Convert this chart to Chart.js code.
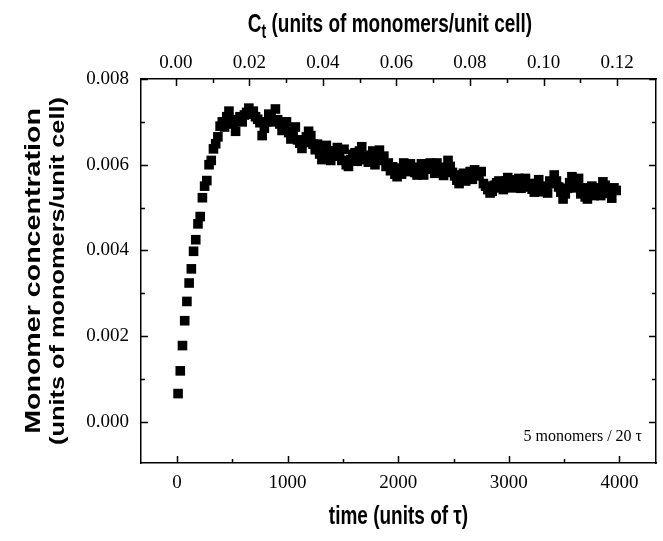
<!DOCTYPE html>
<html>
<head>
<meta charset="utf-8">
<script src="https://cdn.jsdelivr.net/npm/chart.js@4/dist/chart.umd.min.js"></script>
<style>
  html, body { margin: 0; padding: 0; background: #fff; }
</style>
</head>
<body>
<canvas id="monomerChart" width="663" height="541"></canvas>
<script>
// sampling times (units of tau)
const times = [
  10, 30, 50, 70, 90, 110, 130, 150, 170, 190,
  210, 230, 250, 270, 290, 310, 330, 350, 370, 390,
  410, 430, 450, 470, 490, 510, 530, 550, 570, 590,
  610, 630, 650, 670, 690, 710, 730, 750, 770, 790,
  810, 830, 850, 870, 890, 910, 930, 950, 970, 990,
  1010, 1030, 1050, 1070, 1090, 1110, 1130, 1150, 1170, 1190,
  1210, 1230, 1250, 1270, 1290, 1310, 1330, 1350, 1370, 1390,
  1410, 1430, 1450, 1470, 1490, 1510, 1530, 1550, 1570, 1590,
  1610, 1630, 1650, 1670, 1690, 1710, 1730, 1750, 1770, 1790,
  1810, 1830, 1850, 1870, 1890, 1910, 1930, 1950, 1970, 1990,
  2010, 2030, 2050, 2070, 2090, 2110, 2130, 2150, 2170, 2190,
  2210, 2230, 2250, 2270, 2290, 2310, 2330, 2350, 2370, 2390,
  2410, 2430, 2450, 2470, 2490, 2510, 2530, 2550, 2570, 2590,
  2610, 2630, 2650, 2670, 2690, 2710, 2730, 2750, 2770, 2790,
  2810, 2830, 2850, 2870, 2890, 2910, 2930, 2950, 2970, 2990,
  3010, 3030, 3050, 3070, 3090, 3110, 3130, 3150, 3170, 3190,
  3210, 3230, 3250, 3270, 3290, 3310, 3330, 3350, 3370, 3390,
  3410, 3430, 3450, 3470, 3490, 3510, 3530, 3550, 3570, 3590,
  3610, 3630, 3650, 3670, 3690, 3710, 3730, 3750, 3770, 3790,
  3810, 3830, 3850, 3870, 3890, 3910, 3930, 3950, 3970
];

// monomer concentration (monomers / unit cell)
const concentration = [
  0.00066, 0.00119, 0.00178, 0.00236, 0.00281, 0.00324, 0.00357, 0.00398, 0.00425, 0.00462,
  0.00479, 0.00523, 0.00550, 0.00563, 0.00600, 0.00610, 0.00637, 0.00649, 0.00665, 0.00690,
  0.00700, 0.00688, 0.00712, 0.00725, 0.00705, 0.00695, 0.00678, 0.00705, 0.00712, 0.00700,
  0.00716, 0.00722, 0.00732, 0.00718, 0.00725, 0.00712, 0.00706, 0.00698, 0.00668, 0.00685,
  0.00700, 0.00718, 0.00712, 0.00700, 0.00730, 0.00705, 0.00695, 0.00680, 0.00690, 0.00700,
  0.00675, 0.00660, 0.00678, 0.00688, 0.00658, 0.00650, 0.00638, 0.00652, 0.00665, 0.00678,
  0.00668, 0.00648, 0.00635, 0.00648, 0.00625, 0.00612, 0.00626, 0.00645, 0.00632, 0.00610,
  0.00620, 0.00632, 0.00640, 0.00620, 0.00610, 0.00636, 0.00600, 0.00596, 0.00612, 0.00624,
  0.00628, 0.00608, 0.00632, 0.00642, 0.00620, 0.00612, 0.00606, 0.00622, 0.00632, 0.00600,
  0.00622, 0.00634, 0.00610, 0.00620, 0.00596, 0.00604, 0.00586, 0.00595, 0.00578, 0.00572,
  0.00592, 0.00578, 0.00604, 0.00592, 0.00584, 0.00602, 0.00594, 0.00582, 0.00576, 0.00592,
  0.00602, 0.00576, 0.00590, 0.00602, 0.00604, 0.00590, 0.00580, 0.00604, 0.00592, 0.00582,
  0.00575, 0.00594, 0.00610, 0.00596, 0.00582, 0.00574, 0.00564, 0.00556, 0.00576, 0.00580,
  0.00562, 0.00570, 0.00584, 0.00566, 0.00588, 0.00574, 0.00576, 0.00584, 0.00556, 0.00550,
  0.00542, 0.00534, 0.00538, 0.00552, 0.00558, 0.00562, 0.00546, 0.00542, 0.00562, 0.00570,
  0.00564, 0.00546, 0.00555, 0.00564, 0.00568, 0.00545, 0.00558, 0.00568, 0.00548, 0.00556,
  0.00543, 0.00536, 0.00556, 0.00565, 0.00537, 0.00550, 0.00547, 0.00534, 0.00562, 0.00556,
  0.00576, 0.00562, 0.00548, 0.00536, 0.00520, 0.00532, 0.00545, 0.00558, 0.00572, 0.00546,
  0.00556, 0.00568, 0.00532, 0.00546, 0.00525, 0.00520, 0.00540, 0.00550, 0.00528, 0.00540,
  0.00546, 0.00528, 0.00560, 0.00552, 0.00540, 0.00533, 0.00522, 0.00546, 0.00540
];

// axis ticks
const timeTicks = [0, 1000, 2000, 3000, 4000];
const timeMinor = [500, 1500, 2500, 3500];
const ctTicks = [0, 0.02, 0.04, 0.06, 0.08, 0.10, 0.12];
const ctMinor = [0.01, 0.03, 0.05, 0.07, 0.09, 0.11];
const concTicks = [0, 0.002, 0.004, 0.006, 0.008];
const concMinor = [0.001, 0.003, 0.005, 0.007];

const SERIF = '"Liberation Serif", "Times New Roman", serif';
const SANS = '"Liberation Sans", Arial, sans-serif';

// text drawn bold and stretched tall, like the axis titles of the figure
const tallText = (ctx, parts, x, y, rotate, stretch) => {
  ctx.save();
  ctx.translate(x, y);
  if (rotate) ctx.rotate(-Math.PI / 2);
  if (rotate) ctx.scale(stretch, 1); else ctx.scale(1, stretch);
  ctx.textBaseline = 'alphabetic';
  ctx.textAlign = 'left';
  let w = 0;
  parts.forEach(p => { ctx.font = 'bold ' + p.size + 'px ' + SANS; w += ctx.measureText(p.text).width; });
  let cx = -w / 2;
  parts.forEach(p => {
    ctx.font = 'bold ' + p.size + 'px ' + SANS;
    ctx.fillText(p.text, cx, p.dy || 0);
    cx += ctx.measureText(p.text).width;
  });
  ctx.restore();
};

const frameAndTitles = {
  id: 'frameAndTitles',
  afterDraw(chart) {
    const {ctx, chartArea: a, scales} = chart;
    ctx.save();
    ctx.strokeStyle = '#000';
    ctx.lineWidth = 1.5;
    ctx.beginPath();
    const tickX = (scale, values, edge, dir, len) => values.forEach(v => {
      const px = Math.round(scale.getPixelForValue(v)) + 0.5;
      ctx.moveTo(px, edge); ctx.lineTo(px, edge + dir * len);
    });
    const tickY = (scale, values, edge, dir, len) => values.forEach(v => {
      const py = Math.round(scale.getPixelForValue(v)) + 0.5;
      ctx.moveTo(edge, py); ctx.lineTo(edge + dir * len, py);
    });
    tickX(scales.x, timeTicks, a.bottom, -1, 7);
    tickX(scales.x, timeMinor, a.bottom, -1, 4);
    tickX(scales.x2, ctTicks, a.top, 1, 7);
    tickX(scales.x2, ctMinor, a.top, 1, 4);
    tickY(scales.y, concTicks, a.left, 1, 7);
    tickY(scales.y, concMinor, a.left, 1, 4);
    tickY(scales.y, concTicks, a.right, -1, 7);
    tickY(scales.y, concMinor, a.right, -1, 4);
    ctx.stroke();

    ctx.fillStyle = '#000';
    // top axis title with subscript t
    tallText(ctx, [
      {text: 'C', size: 19},
      {text: 't', size: 14, dy: 4},
      {text: ' (units of monomers/unit cell)', size: 19}
    ], 390, 32, false, 1.4);
    // bottom axis title
    tallText(ctx, [{text: 'time (units of \u03c4)', size: 19}], (a.left + a.right) / 2, 524, false, 1.4);
    // left axis title, two lines
    const yc = (a.top + a.bottom) / 2;
    tallText(ctx, [{text: 'Monomer concentration', size: 22}], 40, yc, true, 1.3);
    tallText(ctx, [{text: '(units of monomers/unit cell)', size: 19.5}], 64, yc, true, 1.3);

    // deposition rate note
    ctx.font = '16px ' + SERIF;
    ctx.textAlign = 'right';
    ctx.textBaseline = 'middle';
    ctx.fillText('5 monomers / 20 \u03c4', a.right - 14, a.bottom - 26);
    ctx.restore();
  }
};

const tickFont = {family: SERIF, size: 19};
const setTicks = arr => s => { s.ticks = arr.map(v => ({value: v})); };
const noGrid = {display: true, drawOnChartArea: false, drawTicks: false};
const frame = {display: true, color: '#000', width: 1.5};

const ctx = document.getElementById('monomerChart').getContext('2d');
new Chart(ctx, {
  type: 'scatter',
  data: {
    datasets: [{
      label: 'Monomer concentration',
      data: times.map((t, i) => ({x: t, y: concentration[i]})),
      pointStyle: 'rect',
      pointRadius: 6.8,
      pointHoverRadius: 6.8,
      backgroundColor: '#000',
      borderWidth: 0
    }]
  },
  plugins: [frameAndTitles],
  options: {
    responsive: false,
    animation: false,
    layout: {padding: {left: 0, right: 7, top: 0, bottom: 0}},
    plugins: {legend: {display: false}, tooltip: {enabled: false}},
    scales: {
      x: {
        type: 'linear', position: 'bottom', min: -325, max: 4330,
        afterFit: s => { s.height = 78; },
        afterBuildTicks: setTicks(timeTicks),
        grid: noGrid, border: frame,
        ticks: {font: tickFont, color: '#000', padding: 9, maxRotation: 0, autoSkip: false,
          callback: v => String(v)}
      },
      x2: {
        type: 'linear', position: 'top', min: -0.0095, max: 0.1306,
        afterFit: s => { s.height = 79; },
        afterBuildTicks: setTicks(ctTicks),
        grid: noGrid, border: frame,
        ticks: {font: tickFont, color: '#000', padding: 5, maxRotation: 0, autoSkip: false,
          callback: v => v.toFixed(2)}
      },
      y: {
        type: 'linear', position: 'left', min: -0.00096, max: 0.008,
        afterFit: s => { s.width = 141; },
        afterBuildTicks: setTicks(concTicks),
        grid: noGrid, border: frame,
        ticks: {font: tickFont, color: '#000', padding: 12, autoSkip: false,
          callback: v => v.toFixed(3)}
      },
      y2: {
        type: 'linear', position: 'right', min: -0.00096, max: 0.008,
        afterFit: s => { s.width = 0; },
        grid: noGrid, border: frame,
        ticks: {display: false}
      }
    }
  }
});
</script>
</body>
</html>
